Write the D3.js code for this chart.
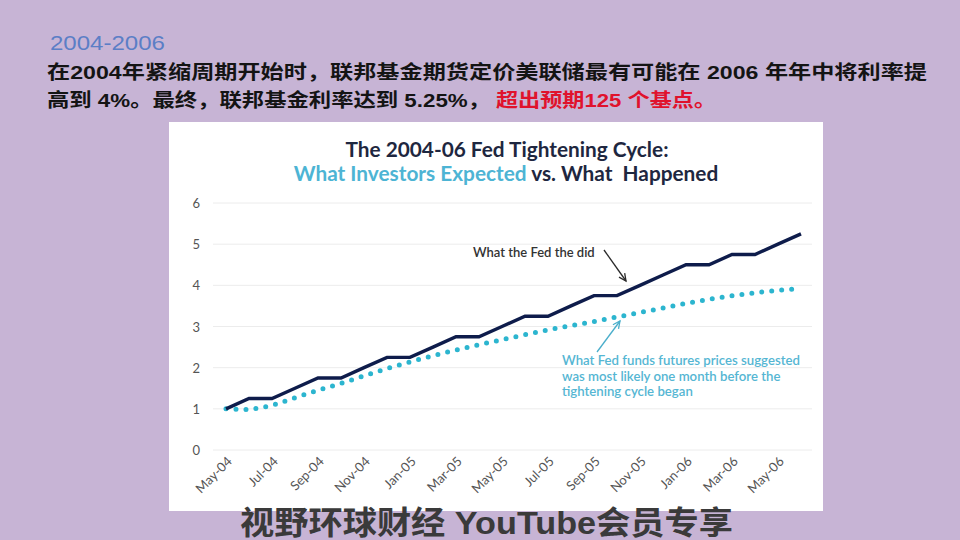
<!DOCTYPE html>
<html><head><meta charset="utf-8">
<script src="https://cdn.jsdelivr.net/npm/d3@7"></script>
<style>html,body{margin:0;padding:0;background:#c7b4d5;}svg{display:block;}</style>
</head><body>
<script>
const months = ["May-04","Jun-04","Jul-04","Aug-04","Sep-04","Oct-04","Nov-04","Dec-04",
  "Jan-05","Feb-05","Mar-05","Apr-05","May-05","Jun-05","Jul-05","Aug-05","Sep-05","Oct-05","Nov-05","Dec-05",
  "Jan-06","Feb-06","Mar-06","Apr-06","May-06","Jun-06"];
const fedActual = [1.0,1.25,1.25,1.5,1.75,1.75,2.0,2.25,2.25,2.5,2.75,2.75,3.0,3.25,3.25,3.5,3.75,3.75,4.0,4.25,4.5,4.5,4.75,4.75,5.0,5.25];
const expected = [1.0,0.98,1.08,1.27,1.45,1.62,1.8,1.98,2.14,2.29,2.43,2.56,2.68,2.8,2.92,3.02,3.12,3.23,3.34,3.45,3.56,3.66,3.75,3.82,3.88,3.92];
const tickLabels = ["May-04","Jul-04","Sep-04","Nov-04","Jan-05","Mar-05","May-05","Jul-05","Sep-05","Nov-05","Jan-06","Mar-06","May-06"];
const yTicks = [0,1,2,3,4,5,6];

const W=960,H=540;
const svg=d3.select("body").append("svg").attr("width",W).attr("height",H);
svg.append("rect").attr("width",W).attr("height",H).attr("fill","#c7b4d5");

// header
const cjk = "'Liberation Sans','Noto Sans CJK SC',sans-serif";
svg.append("text").attr("x",50).attr("y",50).text("2004-2006")
  .attr("font-family",cjk).attr("font-size",21).attr("fill","#5b7ec6")
  .attr("textLength",115).attr("lengthAdjust","spacingAndGlyphs");
svg.append("text").attr("x",47).attr("y",79)
  .text("在2004年紧缩周期开始时，联邦基金期货定价美联储最有可能在 2006 年年中将利率提")
  .attr("font-family",cjk).attr("font-size",19).attr("font-weight","bold").attr("fill","#141414")
  .attr("textLength",880).attr("lengthAdjust","spacingAndGlyphs");
svg.append("text").attr("x",47).attr("y",107)
  .text("高到 4%。最终，联邦基金利率达到 5.25%，")
  .attr("font-family",cjk).attr("font-size",19).attr("font-weight","bold").attr("fill","#141414")
  .attr("textLength",443).attr("lengthAdjust","spacingAndGlyphs");
svg.append("text").attr("x",496).attr("y",107)
  .text("超出预期125 个基点。")
  .attr("font-family",cjk).attr("font-size",19).attr("font-weight","bold").attr("fill","#e0122c")
  .attr("textLength",220).attr("lengthAdjust","spacingAndGlyphs");

// panel
svg.append("rect").attr("x",169).attr("y",122).attr("width",654).attr("height",389).attr("fill","#ffffff");

const font="Lato,'Open Sans',sans-serif";
svg.append("text").attr("x",507).attr("y",157).attr("text-anchor","middle")
  .attr("font-family",font).attr("font-size",20.8).attr("font-weight","bold").attr("fill","#1e2740")
  .text("The 2004-06 Fed Tightening Cycle:");
const t2=svg.append("text").attr("x",506).attr("y",181).attr("text-anchor","middle")
  .attr("font-family",font).attr("font-size",20.8).attr("font-weight","bold").attr("fill","#1e2740");
t2.append("tspan").attr("fill","#4db4d4").text("What Investors Expected");
t2.append("tspan").text(" vs. What \u00a0Happened");

const x=d3.scalePoint().domain(months).range([226,801]);
const y=d3.scaleLinear().domain([0,6]).range([450,203]);

// grid
svg.append("g").selectAll("line").data(yTicks).join("line")
  .attr("x1",213).attr("x2",812).attr("y1",d=>y(d)).attr("y2",d=>y(d))
  .attr("stroke","#ececec").attr("stroke-width",1);

// y axis
const yAxis=svg.append("g").attr("transform","translate(200,0)")
  .call(d3.axisLeft(y).tickValues(yTicks).tickSize(0).tickPadding(0).tickFormat(d3.format("d")));
yAxis.select(".domain").remove();
yAxis.selectAll("text").attr("font-family",font).attr("font-size",13).attr("fill","#555").attr("dy","0.35em");

// x axis
const xAxis=svg.append("g").attr("transform","translate(0,456)")
  .call(d3.axisBottom(x).tickValues(tickLabels).tickSize(0).tickPadding(0));
xAxis.select(".domain").remove();
xAxis.selectAll("text").attr("font-family",font).attr("font-size",13).attr("fill","#555")
  .attr("text-anchor","end").attr("dy","0.35em").attr("dx",0)
  .attr("transform","translate(3,3) rotate(-45)");

// lines
const line=d3.line().x((d,i)=>x(months[i])).y(d=>y(d));
svg.append("path").datum(expected).attr("d",line).attr("fill","none")
  .attr("stroke","#2cb5cf").attr("stroke-width",5).attr("stroke-linecap","round")
  .attr("stroke-dasharray","0 10");
svg.append("path").datum(fedActual).attr("d",line).attr("fill","none")
  .attr("stroke","#0e1c4b").attr("stroke-width",3.4).attr("stroke-linejoin","miter");

// annotations
svg.append("text").attr("x",473).attr("y",257).attr("font-family",font).attr("font-size",13)
  .attr("font-weight",600).attr("fill","#333").text("What the Fed the did");
function arrow(x1,y1,x2,y2,color){
  svg.append("line").attr("x1",x1).attr("y1",y1).attr("x2",x2).attr("y2",y2)
    .attr("stroke",color).attr("stroke-width",1.3);
  const a=Math.atan2(y2-y1,x2-x1), L=8, s=0.45;
  const p=d3.path();
  p.moveTo(x2-L*Math.cos(a-s),y2-L*Math.sin(a-s)); p.lineTo(x2,y2);
  p.lineTo(x2-L*Math.cos(a+s),y2-L*Math.sin(a+s));
  svg.append("path").attr("d",p.toString()).attr("fill","none").attr("stroke",color).attr("stroke-width",1.3);
}
arrow(604,250,626,281,"#2a2a2a");
arrow(597,352,620,321,"#4aaecb");
const ann=["What Fed funds futures prices suggested","was most likely one month before the","tightening cycle began"];
svg.append("g").selectAll("text").data(ann).join("text")
  .attr("x",562).attr("y",(d,i)=>365+i*15.5).attr("font-family",font).attr("font-size",13.2)
  .attr("font-weight",600).attr("fill","#55b6d3").text(d=>d);

// watermark
svg.append("text").attr("x",240).attr("y",534)
  .text("视野环球财经 YouTube会员专享")
  .attr("font-family",cjk).attr("font-size",32).attr("font-weight","bold").attr("fill","#3a3a3a")
  .attr("textLength",493).attr("lengthAdjust","spacingAndGlyphs");
</script>
</body></html>
